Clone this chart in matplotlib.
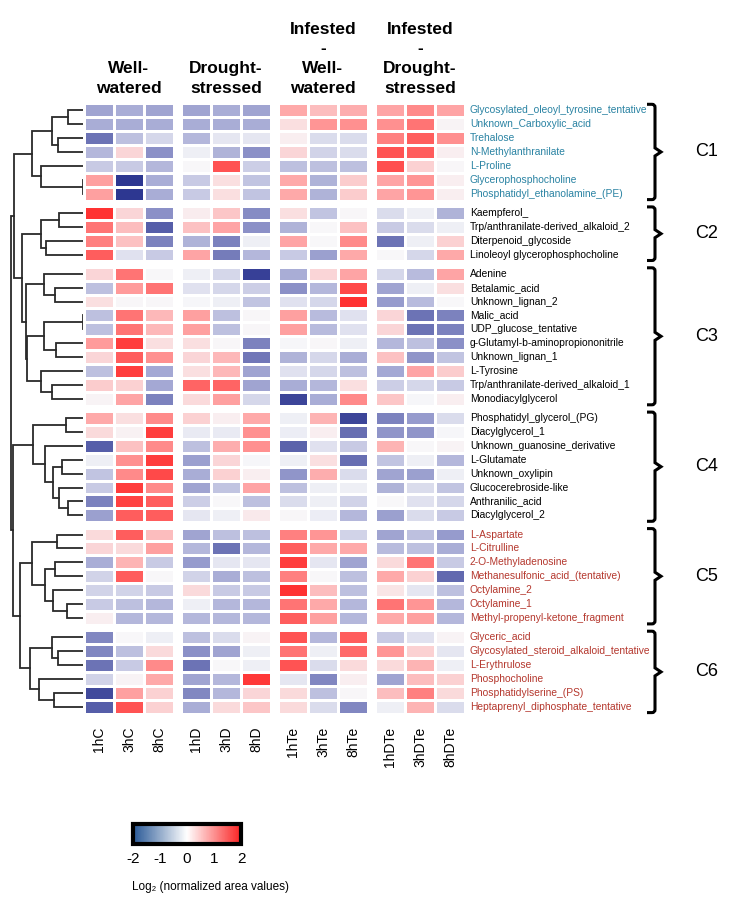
import numpy as np
import matplotlib
matplotlib.use("Agg")
import matplotlib.pyplot as plt
from matplotlib.colors import LinearSegmentedColormap, Normalize
from matplotlib.cm import ScalarMappable
from matplotlib.path import Path
from matplotlib.patches import PathPatch

plt.rcParams['font.family'] = ['Liberation Sans', 'DejaVu Sans']
plt.rcParams['axes.unicode_minus'] = False

# ---------------- data ----------------
group_titles = ["Well-\nwatered", "Drought-\nstressed",
                "Infested\n-\nWell-\nwatered", "Infested\n-\nDrought-\nstressed"]
samples = ["1hC", "3hC", "8hC", "1hD", "3hD", "8hD",
           "1hTe", "3hTe", "8hTe", "1hDTe", "3hDTe", "8hDTe"]
cluster_names = ["C1", "C2", "C3", "C4", "C5", "C6"]

c1_names = ["Glycosylated_oleoyl_tyrosine_tentative", "Unknown_Carboxylic_acid", "Trehalose",
            "N-Methylanthranilate", "L-Proline", "Glycerophosphocholine",
            "Phosphatidyl_ethanolamine_(PE)"]
c1_values = [
    [-0.9, -0.8, -0.9, -0.9, -0.8, -0.9, 0.8, 0.6, 0.75, 0.85, 1.1, 0.85],
    [-0.8, -0.8, -0.8, -0.8, -0.8, -0.8, 0.25, 1.0, 1.05, 1.05, 1.3, 0.05],
    [-1.4, -0.6, -0.35, -0.7, -0.2, -0.2, 0.1, -0.3, -0.3, 1.2, 1.5, 1.05],
    [-0.7, 0.35, -1.1, -0.1, -0.75, -1.1, 0.35, -0.4, -0.3, 1.6, 1.5, 0.1],
    [-0.5, -0.5, -0.7, 0.0, 1.6, -0.45, -0.6, -0.6, -0.6, 1.65, 0.4, 0.02],
    [0.9, -2.0, -0.8, -0.5, 0.25, -0.55, 0.8, -0.75, 0.45, 0.85, 1.0, 0.1],
    [0.9, -2.0, -0.8, -0.5, 0.25, -0.55, 0.8, -0.75, 0.45, 0.85, 1.0, 0.1],
]
c2_names = ["Kaempferol_", "Trp/anthranilate-derived_alkaloid_2", "Diterpenoid_glycoside",
            "Linoleoyl glycerophosphocholine"]
c2_values = [
    [1.9, 0.35, -1.1, 0.12, 0.5, -1.15, 0.25, -0.55, 0.02, -0.3, -0.1, -0.75],
    [1.3, 0.6, -1.6, 0.55, 0.85, -1.1, -0.75, 0.0, 0.55, -0.5, -0.3, -0.1],
    [1.2, 0.55, -1.25, -0.75, -1.25, -0.1, 0.85, 0.0, 1.1, -1.4, -0.1, 0.4],
    [1.5, -0.25, -0.5, 0.85, -1.3, -0.7, -0.5, -0.95, 0.8, 0.0, -0.35, 0.8],
]
c3_names = ["Adenine", "Betalamic_acid", "Unknown_lignan_2", "Malic_acid", "UDP_glucose_tentative",
            "g-Glutamyl-b-aminopropiononitrile", "Unknown_lignan_1", "L-Tyrosine",
            "Trp/anthranilate-derived_alkaloid_1", "Monodiacylglycerol"]
c3_values = [
    [0.35, 1.3, 0.0, -0.1, -0.35, -1.9, -0.8, 0.35, 0.85, -0.35, -0.65, 0.85],
    [-0.6, 0.95, 1.3, -0.25, -0.35, -0.45, -1.1, -0.7, 1.7, -0.9, -0.1, 0.25],
    [0.25, 0.03, 0.03, -0.02, -0.1, -0.55, -0.25, -0.35, 1.9, -1.0, -0.65, 0.0],
    [-0.6, 1.3, 0.65, 0.9, -0.6, 0.03, 0.9, -0.65, -0.25, 0.35, -1.4, -1.25],
    [-0.6, 1.3, 0.65, 0.9, -0.6, 0.03, 0.9, -0.65, -0.25, 0.35, -1.4, -1.25],
    [0.95, 1.8, 0.25, 0.25, 0.02, -1.25, -0.03, 0.02, -0.1, -0.7, -0.6, -1.1],
    [0.35, 1.5, 1.05, 0.35, 0.65, -1.35, -0.75, -0.35, -0.8, 0.55, -1.05, -0.55],
    [-0.6, 1.8, -0.85, 0.25, 0.65, -0.9, -0.25, -0.35, -0.6, -0.85, 0.85, 0.45],
    [0.45, 0.4, -0.85, 1.45, 1.45, -0.9, -0.8, -0.7, 0.25, -0.45, -0.35, -0.5],
    [0.05, 0.85, -1.25, 0.3, 0.9, -0.35, -1.85, -0.8, 1.1, 0.5, -0.03, 0.1],
]
c4_names = ["Phosphatidyl_glycerol_(PG)", "Diacylglycerol_1", "Unknown_guanosine_derivative",
            "L-Glutamate", "Unknown_oxylipin", "Glucocerebroside-like", "Anthranilic_acid",
            "Diacylglycerol_2"]
c4_values = [
    [0.8, 0.25, 1.1, 0.4, 0.1, 0.8, -0.1, 0.7, -1.85, -1.25, -1.0, -0.3],
    [0.3, 0.07, 1.8, -0.15, -0.15, 1.05, -0.12, 0.1, -1.45, -1.05, -1.05, -0.03],
    [-1.6, 0.55, 1.1, -0.6, 0.75, 1.05, -1.55, -0.25, -0.5, 0.7, 0.0, 0.05],
    [-0.1, 1.05, 1.8, -0.95, 0.35, -0.02, -0.1, 0.25, -1.45, -0.55, -0.1, -0.7],
    [-0.55, 1.1, 1.7, -0.8, 0.4, 0.1, -1.05, 0.75, -0.3, -0.9, -0.95, -0.1],
    [-0.5, 1.8, 1.1, -0.9, -0.55, 0.85, -0.6, -0.1, -0.1, -0.75, -0.3, -0.55],
    [-1.25, 1.75, 1.5, -0.45, 0.0, -0.6, -0.3, -0.1, -0.4, 0.0, -0.25, -0.35],
    [-0.95, 1.5, 1.5, -0.2, -0.1, 0.15, 0.03, -0.12, -0.7, -0.95, -0.3, -0.5],
]
c5_names = ["L-Aspartate", "L-Citrulline", "2-O-Methyladenosine", "Methanesulfonic_acid_(tentative)",
            "Octylamine_2", "Octylamine_1", "Methyl-propenyl-ketone_fragment"]
c5_values = [
    [0.3, 1.5, 0.6, -0.9, -0.6, -0.6, 1.2, 1.0, -0.4, -0.9, -0.6, -1.0],
    [0.35, 0.3, 0.9, -0.7, -1.4, -0.7, 1.5, 0.8, 0.8, -0.65, -0.6, -0.8],
    [-0.8, 0.7, -0.5, -1.0, -0.2, -0.2, 1.8, -0.2, -0.9, 0.3, 1.3, -0.5],
    [-0.4, 1.5, 0.0, -0.4, -0.8, -0.6, 1.2, 0.0, -0.6, 0.8, 0.4, -1.5],
    [-0.4, -0.4, -0.5, 0.3, -0.5, -0.5, 1.9, 0.6, -0.6, 0.2, -0.2, -0.6],
    [-0.5, -0.6, -0.7, -0.1, -0.7, -0.7, 1.3, 0.8, -0.7, 1.3, 1.0, -0.7],
    [0.1, -0.7, -0.7, -0.7, -0.7, -0.7, 1.5, 0.9, -0.7, 0.8, 0.9, -0.7],
]
c6_names = ["Glyceric_acid", "Glycosylated_steroid_alkaloid_tentative", "L-Erythrulose",
            "Phosphocholine", "Phosphatidylserine_(PS)", "Heptaprenyl_diphosphate_tentative"]
c6_values = [
    [-1.2, 0.0, -0.1, -0.6, -0.3, 0.05, 1.6, -0.7, 1.5, -0.5, -0.25, 0.05],
    [-1.2, -0.6, 0.3, -1.1, -0.9, -0.1, 1.3, -0.1, 1.4, 1.0, 0.4, -0.2],
    [-1.4, -0.5, 1.1, -1.4, 0.0, -0.1, 1.6, -0.3, 0.3, 0.3, 0.7, -0.1],
    [-0.4, 0.05, 0.8, -0.9, -0.7, 1.85, -0.2, -1.2, 0.1, -0.9, 0.6, 0.4],
    [-1.8, 0.9, 0.4, -1.2, -0.7, 0.35, 0.3, -0.6, 0.03, 0.6, 1.2, 0.3],
    [-1.6, 1.6, 0.4, -0.8, 0.3, 0.5, 0.3, -0.3, -1.2, -0.1, 0.7, -0.3],
]

# dendrogram (leaf index = row index from top, third item = merge height)
c1_tree = (((0, 1, 4.5), (2, 3, 7.7), 9.5), (4, (5, 6, 0.0), 12.8), 15.3)
c2_tree = ((7, 8, 7.2), (9, 10, 11.3), 12.7)
c3_tree = ((11, (12, 13, 8.5), 11.7),
           (((14, 15, 0.0), (16, 17, 8.2), 11.7), (18, (19, 20, 9.5), 12.8), 16.9), 17.1)
c4_tree = ((21, 22, 5.3), (23, ((24, 25, 6.5), (26, (27, 28, 4.5), 7.2), 9.0), 11.5), 15.0)
c5_tree = ((29, 30, 7.8), ((31, 32, 8.5), (33, (34, 35, 5.0), 9.0), 11.5), 15.5)
c6_tree = ((36, (37, 38, 7.5), 9.5), (39, (40, 41, 8.8), 13.2), 16.0)
full_tree = ((c1_tree, (c2_tree, c3_tree, 18.5), 20.8),
             (c4_tree, (c5_tree, c6_tree, 19.0), 21.0), 21.8)

cluster_rows = [c1_names, c2_names, c3_names, c4_names, c5_names, c6_names]
cluster_vals = [c1_values, c2_values, c3_values, c4_values, c5_values, c6_values]
label_colors = ["#2a83a3", "black", "black", "black", "#b5382e", "#b5382e"]

# ---------------- layout (pixels) ----------------
W, H = 737, 908
fig = plt.figure(figsize=(W / 100, H / 100), dpi=100)

def px_axes(x0, y0, w, h, **kw):
    return fig.add_axes([x0 / W, 1 - (y0 + h) / H, w / W, h / H], **kw)

cell_w, row_h = 30.0, 13.9
group_x = [84, 181, 278, 375]
top0, gap = 103.3, 5.3

cmap = LinearSegmentedColormap.from_list(
    "bwr_heat",
    [(0.0, (45/255, 55/255, 145/255)), (0.25, (150/255, 155/255, 205/255)),
     (0.5, (248/255, 248/255, 250/255)), (0.75, (255/255, 150/255, 150/255)),
     (1.0, (255/255, 40/255, 40/255))])

overlay = px_axes(0, 0, W, H)
overlay.set_xlim(0, W)
overlay.set_ylim(H, 0)
overlay.axis("off")

cluster_top = []
y = top0
leaf_y = []
for names in cluster_rows:
    cluster_top.append(y)
    for i in range(len(names)):
        leaf_y.append(y + (i + 0.5) * row_h)
    y += len(names) * row_h + gap

# heatmap blocks
for ci, (names, vals) in enumerate(zip(cluster_rows, cluster_vals)):
    arr = np.array(vals)
    n = len(names)
    for g in range(4):
        ax = px_axes(group_x[g], cluster_top[ci], 3 * cell_w, n * row_h)
        ax.pcolormesh(arr[:, 3 * g:3 * g + 3], cmap=cmap, vmin=-2, vmax=2,
                      edgecolors="white", linewidth=0.9)
        ax.set_xlim(0, 3)
        ax.set_ylim(n, 0)
        ax.axis("off")
    for i, name in enumerate(names):
        overlay.text(470, cluster_top[ci] + (i + 0.5) * row_h, name, fontsize=7.4,
                     color=label_colors[ci], va="center", ha="left")
    # bracket
    t = cluster_top[ci] + 1
    b = cluster_top[ci] + n * row_h - 1
    m = (t + b) / 2
    xb, xl, xt = 655, 647, 661
    verts = [(xl, t), (xb - 3, t), (xb, t), (xb, t + 3), (xb, m - 4), (xt, m),
             (xb, m + 4), (xb, b - 3), (xb, b), (xb - 3, b), (xl, b)]
    codes = [Path.MOVETO, Path.LINETO, Path.CURVE3, Path.CURVE3, Path.LINETO, Path.LINETO,
             Path.LINETO, Path.LINETO, Path.CURVE3, Path.CURVE3, Path.LINETO]
    overlay.add_patch(PathPatch(Path(verts, codes), fill=False, lw=2.2, color="black",
                                capstyle="butt", joinstyle="miter"))
    overlay.text(707, m, cluster_names[ci], fontsize=13, ha="center", va="center")

# group titles
for g, title in enumerate(group_titles):
    overlay.text(group_x[g] + 1.5 * cell_w, 96, title, fontsize=12.5, fontweight="bold",
                 ha="center", va="bottom", multialignment="center", linespacing=1.4)

# sample labels
for j, s in enumerate(samples):
    g = j // 3
    xc = group_x[g] + (j % 3 + 0.5) * cell_w
    overlay.text(xc, 727, s, rotation=90, fontsize=10, ha="center", va="top")

# dendrogram
dax = px_axes(0, 0, 83.3, H)
dax.set_xlim(25, 0)
dax.set_ylim(H, 0)
dax.axis("off")
dax.patch.set_alpha(0)

def draw(node):
    if isinstance(node, int):
        return leaf_y[node], 0.0
    left, right, h = node
    yl, hl = draw(left)
    yr, hr = draw(right)
    dax.plot([hl, h, h, hr], [yl, yl, yr, yr], color="#2a2a2a", lw=1.3,
             solid_joinstyle="miter")
    return (yl + yr) / 2, h

draw(full_tree)

# colorbar
cb_cmap = LinearSegmentedColormap.from_list(
    "cb", [(0.0, (40/255, 88/255, 150/255)), (0.5, (1, 1, 1)), (1.0, (250/255, 35/255, 35/255))])
cax = px_axes(133, 824, 108, 20)
cb = fig.colorbar(ScalarMappable(norm=Normalize(-2, 2), cmap=cb_cmap), cax=cax,
                  orientation="horizontal", ticks=[-2, -1, 0, 1, 2])
cb.outline.set_linewidth(3)
cax.tick_params(length=0, labelsize=11, pad=6)
overlay.text(132, 887, "Log\u2082 (normalized area values)", fontsize=8.5, ha="left", va="center")

fig.savefig("out.png", dpi=100)
